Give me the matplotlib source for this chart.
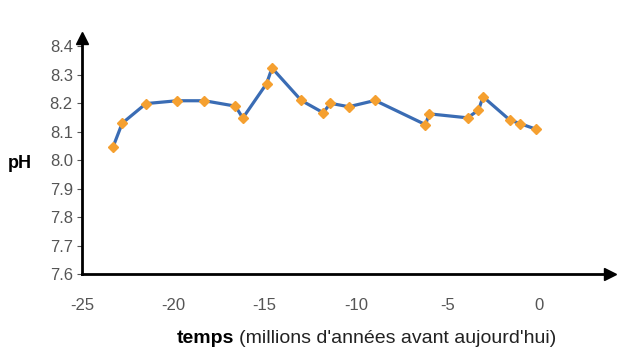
import matplotlib.pyplot as plt

# ages (millions d'années) and pH
temps = [-23.3, -22.8, -21.5, -19.8, -18.3, -16.6, -16.2, -14.9, -14.6,
         -13.0, -11.8, -11.4, -10.4, -8.96, -6.2, -6.0, -3.9, -3.3, -3.05,
         -1.6, -1.0, -0.15]
ph = [8.047, 8.13, 8.199, 8.209, 8.209, 8.19, 8.148, 8.269, 8.324,
      8.21, 8.167, 8.20, 8.188, 8.21, 8.125, 8.163, 8.149, 8.176, 8.223,
      8.142, 8.128, 8.109]

xticks = [-25, -20, -15, -10, -5, 0]
yticks = [7.6, 7.7, 7.8, 7.9, 8.0, 8.1, 8.2, 8.3, 8.4]

plt.rcParams['font.family'] = ['Liberation Sans', 'DejaVu Sans']

fig = plt.figure(figsize=(6.2, 3.54), dpi=100)
ax = fig.add_axes([0.1323, 0.226, 0.8516, 0.667])

ax.plot(temps, ph, color='#3a6cb4', lw=2.3, zorder=2)
ax.plot(temps, ph, 'D', color='#f5a030', ms=5.5, mec='#f5a030', zorder=3)

ax.set_xlim(-25, 3.9)
ax.set_ylim(7.6, 8.43)
ax.set_xticks(xticks)
ax.set_xticklabels([str(t) for t in xticks])
ax.set_yticks(yticks)
ax.set_yticklabels(['%.1f' % t for t in yticks])
ax.tick_params(axis='y', length=3.6, width=0.8, color='#555555', labelsize=12,
               labelcolor='#555555', pad=3)
ax.tick_params(axis='x', length=0, labelsize=12, labelcolor='#555555', pad=17)

for s in ['top', 'right']:
    ax.spines[s].set_visible(False)
for s in ['left', 'bottom']:
    ax.spines[s].set_linewidth(2)
    ax.spines[s].set_color('black')

# arrow heads
ax.plot(1, 0, '>', color='black', ms=8, transform=ax.transAxes, clip_on=False)
ax.plot(0, 1, '^', color='black', ms=8, transform=ax.transAxes, clip_on=False)

fig.text(0.013, 0.537, 'pH', fontsize=13, fontweight='bold', va='center')
fig.text(0.285, 0.03, 'temps', fontsize=14, fontweight='bold', va='baseline')
fig.text(0.386, 0.03, "(millions d'années avant aujourd'hui)", fontsize=14,
         color='#222222', va='baseline')

fig.savefig('out.png', dpi=100)
